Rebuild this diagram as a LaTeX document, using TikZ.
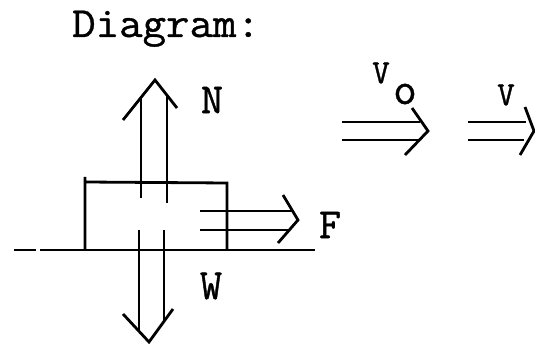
\documentclass[tikz,border=0pt]{standalone}
\usepackage{fontspec}
\newfontfamily\typewriter{Latin Modern Mono}[FakeBold=0.9]

\begin{document}
\begin{tikzpicture}[x=1pt,y=-1pt,
  line/.style={line width=2.8pt,line join=miter},
  lab/.style={font=\fontsize{43}{45}\selectfont\typewriter},
  sublab/.style={font=\fontsize{34}{36}\selectfont\typewriter}]
  \useasboundingbox (0,0) rectangle (535,344);
  \node[lab,anchor=base west,inner sep=0pt] (title) at (72,37) {\scalebox{1.06}[1]{Diagram:}};
  \draw[line] (14,250)--(36,250) (40,250)--(315,250);
  \draw[line] (85,250)--(85,177) (85,182)--(227,183)--(227,250);
  \draw[line] (141,198)--(141,97) (167,203)--(167,95);
  \draw[line] (123,120)--(155,80)--(177,108);
  \node[lab] (N) at (212,100) {N};
  \draw[line] (139,230)--(139,332) (164,230)--(164,321);
  \draw[line] (123,314)--(149,342)--(173,309);
  \node[lab] (W) at (211,286) {W};
  \draw[line] (200,211)--(292,211) (200,230)--(290,230);
  \draw[line] (283,195)--(298,220)--(278,243);
  \node[lab] (F) at (330,225) {F};
  \draw[line] (342,122)--(420,122) (342,140)--(418,140);
  \draw[line] (412,108)--(428,131)--(405,155);
  \node[sublab] (v0) at (381,73) {V};
  \node[sublab,font=\fontsize{46}{48}\selectfont\typewriter] (o) at (405,94) {o};
  \draw[line] (468,122)--(526,122) (468,140)--(524,140);
  \draw[line] (525,107)--(534,131)--(520,155);
  \node[sublab] (v) at (506,95) {V};
\end{tikzpicture}
\end{document}
